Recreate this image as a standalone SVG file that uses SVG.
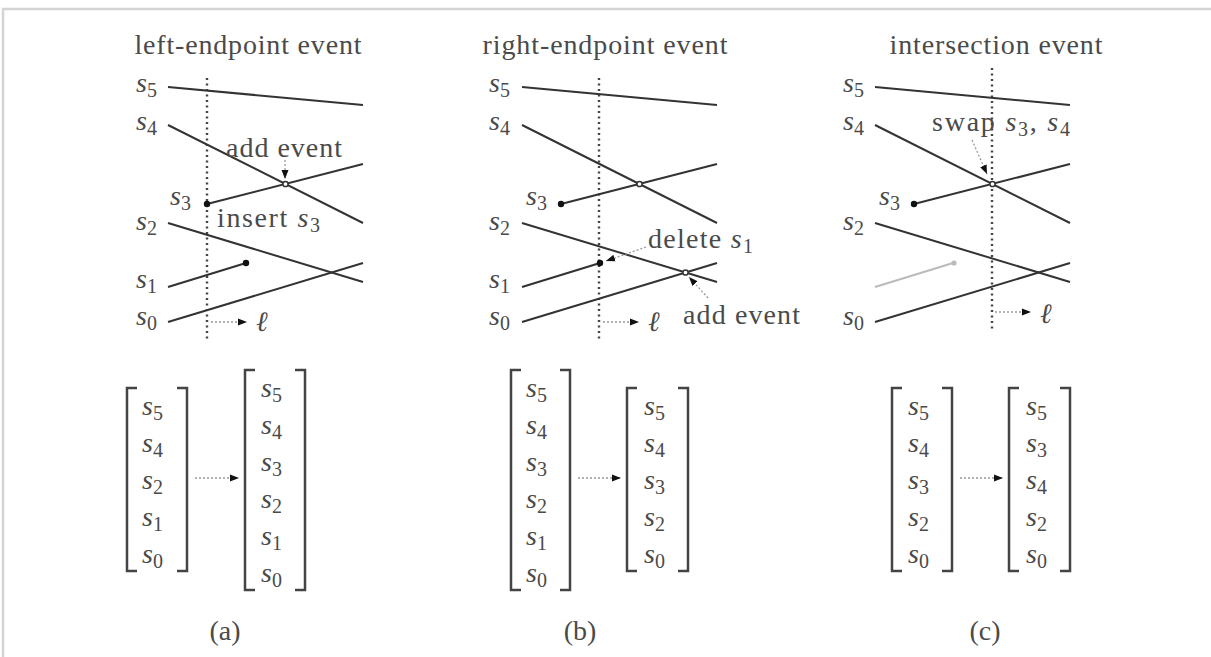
<svg xmlns="http://www.w3.org/2000/svg" width="1211" height="657" viewBox="0 0 1211 657">
<defs>
<marker id="ah" markerUnits="userSpaceOnUse" markerWidth="10" markerHeight="8" refX="9" refY="4" orient="auto">
<path d="M0,0.5 L9,4 L0,7.5 z" fill="#111"/>
</marker>
<style>
text{font-family:"Liberation Serif","DejaVu Serif",serif;font-size:28px;fill:#4a4a4a}
.i{font-style:italic}
.sb{font-size:20px}
.seg{stroke:#333;stroke-width:2;fill:none}
.ghost{stroke:#bbb;stroke-width:2;fill:none}
.sweep{stroke:#444;stroke-width:2.4;stroke-dasharray:2 3.5;fill:none}
.lead{stroke:#999;stroke-width:1.3;stroke-dasharray:2 2;fill:none}
.dot{fill:#111}
.ev{fill:#fff;stroke:#333;stroke-width:1.5}
.br{stroke:#444;stroke-width:2.5;fill:none}
.frame{stroke:#d4d4d4;stroke-width:2.5;fill:none}
</style>
</defs>
<rect width="1211" height="657" fill="#fff"/>
<path class="frame" d="M3,657 V9 H1211"/>

<g id="panel-a">
<text x="248" y="54" text-anchor="middle" textLength="227" lengthAdjust="spacing">left-endpoint event</text>
<line class="sweep" x1="207" y1="78" x2="207" y2="342"/>
<line class="seg" x1="168" y1="87" x2="363" y2="105"/>
<line class="seg" x1="168" y1="125" x2="363" y2="223"/>
<line class="seg" x1="207" y1="204" x2="363" y2="164"/>
<line class="seg" x1="168" y1="223" x2="363" y2="282"/>
<line class="seg" x1="168" y1="287" x2="246" y2="263"/>
<line class="seg" x1="168" y1="322" x2="363" y2="263"/>
<circle class="dot" cx="207" cy="204" r="3.2"/>
<circle class="dot" cx="246" cy="263" r="3.2"/>
<circle class="ev" cx="285.5" cy="184" r="2.6"/>
<text x="136" y="92"><tspan class="i">s</tspan><tspan class="sb" dy="5">5</tspan></text>
<text x="136" y="130"><tspan class="i">s</tspan><tspan class="sb" dy="5">4</tspan></text>
<text x="170" y="205"><tspan class="i">s</tspan><tspan class="sb" dy="5">3</tspan></text>
<text x="136" y="230"><tspan class="i">s</tspan><tspan class="sb" dy="5">2</tspan></text>
<text x="136" y="288"><tspan class="i">s</tspan><tspan class="sb" dy="5">1</tspan></text>
<text x="136" y="325"><tspan class="i">s</tspan><tspan class="sb" dy="5">0</tspan></text>
<text x="226" y="157" textLength="116" lengthAdjust="spacing">add event</text>
<text x="217" y="227" textLength="103" lengthAdjust="spacing">insert <tspan class="i">s</tspan><tspan class="sb" dy="5">3</tspan></text>
<text class="i" x="256" y="331">ℓ</text>
</g>

<g id="panel-b">
<text x="605" y="54" text-anchor="middle" textLength="245" lengthAdjust="spacing">right-endpoint event</text>
<line class="sweep" x1="599" y1="78" x2="599" y2="342"/>
<line class="seg" x1="522" y1="87" x2="717" y2="105"/>
<line class="seg" x1="522" y1="125" x2="717" y2="223"/>
<line class="seg" x1="561" y1="204" x2="717" y2="164"/>
<line class="seg" x1="522" y1="223" x2="717" y2="282"/>
<line class="seg" x1="522" y1="287" x2="600" y2="263"/>
<line class="seg" x1="522" y1="322" x2="717" y2="263"/>
<circle class="dot" cx="561" cy="204" r="3.2"/>
<circle class="dot" cx="600" cy="263" r="3.2"/>
<circle class="ev" cx="639.5" cy="184" r="2.6"/>
<circle class="ev" cx="685.5" cy="272.5" r="2.6"/>
<text x="489" y="92"><tspan class="i">s</tspan><tspan class="sb" dy="5">5</tspan></text>
<text x="489" y="130"><tspan class="i">s</tspan><tspan class="sb" dy="5">4</tspan></text>
<text x="526" y="205"><tspan class="i">s</tspan><tspan class="sb" dy="5">3</tspan></text>
<text x="489" y="230"><tspan class="i">s</tspan><tspan class="sb" dy="5">2</tspan></text>
<text x="489" y="288"><tspan class="i">s</tspan><tspan class="sb" dy="5">1</tspan></text>
<text x="489" y="325"><tspan class="i">s</tspan><tspan class="sb" dy="5">0</tspan></text>
<text x="648" y="248" textLength="105" lengthAdjust="spacing">delete <tspan class="i">s</tspan><tspan class="sb" dy="5">1</tspan></text>
<text x="683" y="324" textLength="117" lengthAdjust="spacing">add event</text>
<text class="i" x="648" y="331">ℓ</text>
</g>

<g id="panel-c">
<text x="996" y="54" text-anchor="middle" textLength="213" lengthAdjust="spacing">intersection event</text>
<line class="sweep" x1="992" y1="68" x2="992" y2="332"/>
<line class="seg" x1="875" y1="87" x2="1070" y2="105"/>
<line class="seg" x1="875" y1="125" x2="1070" y2="223"/>
<line class="seg" x1="914" y1="204" x2="1070" y2="164"/>
<line class="seg" x1="875" y1="223" x2="1070" y2="282"/>
<line class="ghost" x1="875" y1="287" x2="953" y2="263"/>
<line class="seg" x1="875" y1="322" x2="1070" y2="263"/>
<circle class="dot" cx="914" cy="204" r="3.2"/>
<circle cx="954" cy="263" r="2.6" fill="#bbb"/>
<circle class="ev" cx="992.5" cy="184" r="2.6"/>
<text x="843" y="92"><tspan class="i">s</tspan><tspan class="sb" dy="5">5</tspan></text>
<text x="843" y="130"><tspan class="i">s</tspan><tspan class="sb" dy="5">4</tspan></text>
<text x="879" y="205"><tspan class="i">s</tspan><tspan class="sb" dy="5">3</tspan></text>
<text x="843" y="230"><tspan class="i">s</tspan><tspan class="sb" dy="5">2</tspan></text>
<text x="843" y="325"><tspan class="i">s</tspan><tspan class="sb" dy="5">0</tspan></text>
<text x="932" y="131" textLength="138" lengthAdjust="spacing">swap <tspan class="i">s</tspan><tspan class="sb" dy="5">3</tspan><tspan dy="-5">, </tspan><tspan class="i">s</tspan><tspan class="sb" dy="5">4</tspan></text>
<text class="i" x="1040" y="323">ℓ</text>
</g>

<g id="matrices-a">
<path class="br" d="M137,388 H127 V571 H137 M177,388 H187 V571 H177"/>
<text x="142" y="415"><tspan class="i">s</tspan><tspan class="sb" dy="5">5</tspan></text>
<text x="142" y="452"><tspan class="i">s</tspan><tspan class="sb" dy="5">4</tspan></text>
<text x="142" y="489"><tspan class="i">s</tspan><tspan class="sb" dy="5">2</tspan></text>
<text x="142" y="526"><tspan class="i">s</tspan><tspan class="sb" dy="5">1</tspan></text>
<text x="142" y="563"><tspan class="i">s</tspan><tspan class="sb" dy="5">0</tspan></text>
<path class="br" d="M255,370 H245 V590 H255 M295,370 H305 V590 H295"/>
<text x="261" y="397"><tspan class="i">s</tspan><tspan class="sb" dy="5">5</tspan></text>
<text x="261" y="434"><tspan class="i">s</tspan><tspan class="sb" dy="5">4</tspan></text>
<text x="261" y="471"><tspan class="i">s</tspan><tspan class="sb" dy="5">3</tspan></text>
<text x="261" y="508"><tspan class="i">s</tspan><tspan class="sb" dy="5">2</tspan></text>
<text x="261" y="545"><tspan class="i">s</tspan><tspan class="sb" dy="5">1</tspan></text>
<text x="261" y="582"><tspan class="i">s</tspan><tspan class="sb" dy="5">0</tspan></text>
<text x="225" y="640" text-anchor="middle">(a)</text>
</g>

<g id="matrices-b">
<path class="br" d="M521,370 H511 V590 H521 M560,370 H570 V590 H560"/>
<text x="526" y="397"><tspan class="i">s</tspan><tspan class="sb" dy="5">5</tspan></text>
<text x="526" y="434"><tspan class="i">s</tspan><tspan class="sb" dy="5">4</tspan></text>
<text x="526" y="471"><tspan class="i">s</tspan><tspan class="sb" dy="5">3</tspan></text>
<text x="526" y="508"><tspan class="i">s</tspan><tspan class="sb" dy="5">2</tspan></text>
<text x="526" y="545"><tspan class="i">s</tspan><tspan class="sb" dy="5">1</tspan></text>
<text x="526" y="582"><tspan class="i">s</tspan><tspan class="sb" dy="5">0</tspan></text>
<path class="br" d="M637,388 H627 V571 H637 M678,388 H688 V571 H678"/>
<text x="644" y="415"><tspan class="i">s</tspan><tspan class="sb" dy="5">5</tspan></text>
<text x="644" y="452"><tspan class="i">s</tspan><tspan class="sb" dy="5">4</tspan></text>
<text x="644" y="489"><tspan class="i">s</tspan><tspan class="sb" dy="5">3</tspan></text>
<text x="644" y="526"><tspan class="i">s</tspan><tspan class="sb" dy="5">2</tspan></text>
<text x="644" y="563"><tspan class="i">s</tspan><tspan class="sb" dy="5">0</tspan></text>
<text x="580" y="640" text-anchor="middle">(b)</text>
</g>

<g id="matrices-c">
<path class="br" d="M902,388 H892 V571 H902 M942,388 H952 V571 H942"/>
<text x="908" y="415"><tspan class="i">s</tspan><tspan class="sb" dy="5">5</tspan></text>
<text x="908" y="452"><tspan class="i">s</tspan><tspan class="sb" dy="5">4</tspan></text>
<text x="908" y="489"><tspan class="i">s</tspan><tspan class="sb" dy="5">3</tspan></text>
<text x="908" y="526"><tspan class="i">s</tspan><tspan class="sb" dy="5">2</tspan></text>
<text x="908" y="563"><tspan class="i">s</tspan><tspan class="sb" dy="5">0</tspan></text>
<path class="br" d="M1019,388 H1009 V571 H1019 M1060,388 H1070 V571 H1060"/>
<text x="1026" y="415"><tspan class="i">s</tspan><tspan class="sb" dy="5">5</tspan></text>
<text x="1026" y="452"><tspan class="i">s</tspan><tspan class="sb" dy="5">3</tspan></text>
<text x="1026" y="489"><tspan class="i">s</tspan><tspan class="sb" dy="5">4</tspan></text>
<text x="1026" y="526"><tspan class="i">s</tspan><tspan class="sb" dy="5">2</tspan></text>
<text x="1026" y="563"><tspan class="i">s</tspan><tspan class="sb" dy="5">0</tspan></text>
<text x="985" y="640" text-anchor="middle">(c)</text>
</g>

<g id="connectors">
<line class="lead" x1="285" y1="160" x2="285" y2="179" marker-end="url(#ah)"/>
<line class="lead" x1="211" y1="322" x2="247" y2="322" marker-end="url(#ah)"/>
<line class="lead" x1="646" y1="247" x2="606" y2="261" marker-end="url(#ah)"/>
<line class="lead" x1="708" y1="298" x2="689" y2="277" marker-end="url(#ah)"/>
<line class="lead" x1="603" y1="322" x2="639" y2="322" marker-end="url(#ah)"/>
<line class="lead" x1="972" y1="140" x2="987" y2="174" marker-end="url(#ah)"/>
<line class="lead" x1="995" y1="312" x2="1031" y2="312" marker-end="url(#ah)"/>
<line class="lead" x1="195" y1="478" x2="239" y2="478" marker-end="url(#ah)"/>
<line class="lead" x1="578" y1="478" x2="621" y2="478" marker-end="url(#ah)"/>
<line class="lead" x1="960" y1="478" x2="1003" y2="478" marker-end="url(#ah)"/>
</g>
</svg>
